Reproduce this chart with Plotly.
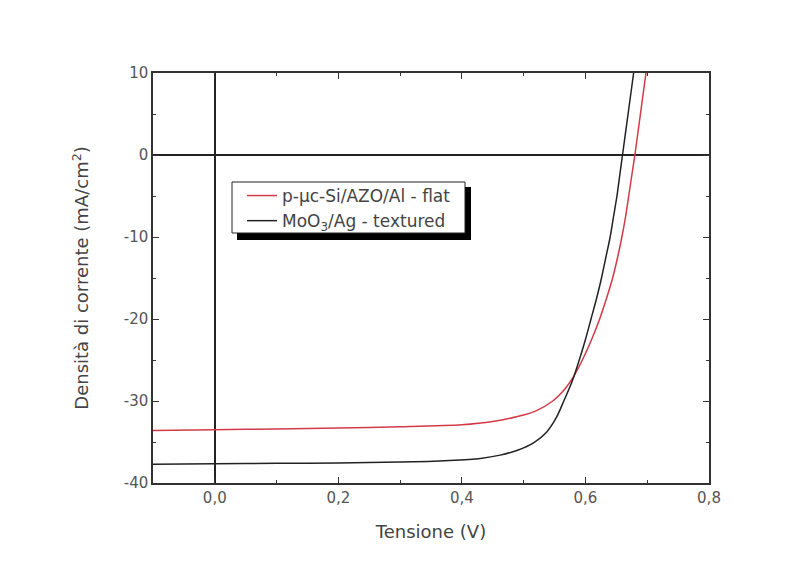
import plotly.graph_objects as go

# Red curve: p-uc-Si/AZO/Al - flat
v_red = [-0.10, 0.00, 0.10, 0.20, 0.30, 0.40, 0.45, 0.49, 0.52, 0.547, 0.567, 0.581,
         0.595, 0.610, 0.623, 0.634, 0.644, 0.652, 0.659, 0.665, 0.670, 0.675, 0.680, 0.689, 0.698]
j_red = [-33.6, -33.5, -33.4, -33.3, -33.15, -32.9, -32.5, -31.9, -31.2, -30.0, -28.5, -27.0,
         -25.0, -22.5, -20.0, -17.5, -15.0, -12.5, -10.0, -7.5, -5.0, -2.5, 0.0, 5.0, 10.0]

# Black curve: MoO3/Ag - textured
v_blk = [-0.10, 0.00, 0.10, 0.20, 0.30, 0.38, 0.43, 0.462, 0.49, 0.516, 0.537, 0.553, 0.565, 0.579,
         0.590, 0.600, 0.609, 0.618, 0.626, 0.633, 0.640, 0.6455, 0.651, 0.6555, 0.660, 0.669, 0.678]
j_blk = [-37.7, -37.65, -37.6, -37.55, -37.45, -37.25, -37.0, -36.6, -36.0, -35.1, -33.8, -32.0, -30.0, -27.5,
         -25.0, -22.5, -20.0, -17.5, -15.0, -12.5, -10.0, -7.5, -5.0, -2.5, 0.0, 5.0, 10.0]

x_ticks = [0.0, 0.2, 0.4, 0.6, 0.8]
x_labels = ["0,0", "0,2", "0,4", "0,6", "0,8"]
y_ticks = [10, 0, -10, -20, -30, -40]
y_labels = ["10", "0", "-10", "-20", "-30", "-40"]

series_names = ["p-\u03bcc-Si/AZO/Al - flat", "MoO<sub>3</sub>/Ag - textured"]

FONT = "DejaVu Sans, Arial, sans-serif"

fig = go.Figure()
fig.add_trace(go.Scatter(x=v_red, y=j_red, mode="lines", name=series_names[0],
                         line=dict(color="#d23a48", width=1.5, shape="spline", smoothing=0.8)))
fig.add_trace(go.Scatter(x=v_blk, y=j_blk, mode="lines", name=series_names[1],
                         line=dict(color="#222222", width=1.5, shape="spline", smoothing=0.8)))

axis_common = dict(showline=True, linecolor="#333", linewidth=1.5, mirror="allticks",
                   ticks="inside", ticklen=6, tickcolor="#333", tickwidth=1.2,
                   showgrid=False, zeroline=True, zerolinecolor="#222", zerolinewidth=1.5,
                   tickfont=dict(family=FONT, size=15, color="#555"),
                   title_font=dict(family=FONT, size=18, color="#444"))

fig.update_layout(
    width=811, height=575,
    margin=dict(l=145, r=110, t=65, b=100, autoexpand=False),
    paper_bgcolor="white", plot_bgcolor="white",
    showlegend=True,
    legend=dict(x=(242 - 153) / 556, y=(483 - 178) / 410, xanchor="left", yanchor="top",
                bgcolor="rgba(0,0,0,0)", borderwidth=0,
                font=dict(family=FONT, size=17, color="#444"),
                tracegroupgap=0),
    xaxis=dict(range=[-0.1, 0.8], tickvals=x_ticks, ticktext=x_labels,
               minor=dict(ticks="inside", ticklen=3, dtick=0.1, tickcolor="#333"),
               title=dict(text="Tensione (V)", standoff=20), **axis_common),
    yaxis=dict(range=[-40, 10], tickvals=y_ticks, ticktext=y_labels,
               minor=dict(ticks="inside", ticklen=3, dtick=5, tickcolor="#333"),
               title=dict(text="Densità di corrente (mA/cm<sup>2</sup>)", standoff=30), **axis_common),
)

# legend drop shadow and box
fig.add_shape(type="rect", xref="paper", yref="paper",
              x0=(237 - 153) / 556, x1=(471 - 153) / 556,
              y0=(483 - 240) / 410, y1=(483 - 187) / 410,
              fillcolor="black", line=dict(width=0), layer="above")
fig.add_shape(type="rect", xref="paper", yref="paper",
              x0=(232 - 153) / 556, x1=(465 - 153) / 556,
              y0=(483 - 233) / 410, y1=(483 - 182) / 410,
              fillcolor="white", line=dict(color="#222", width=1), layer="above")

fig.write_html("out.html")
